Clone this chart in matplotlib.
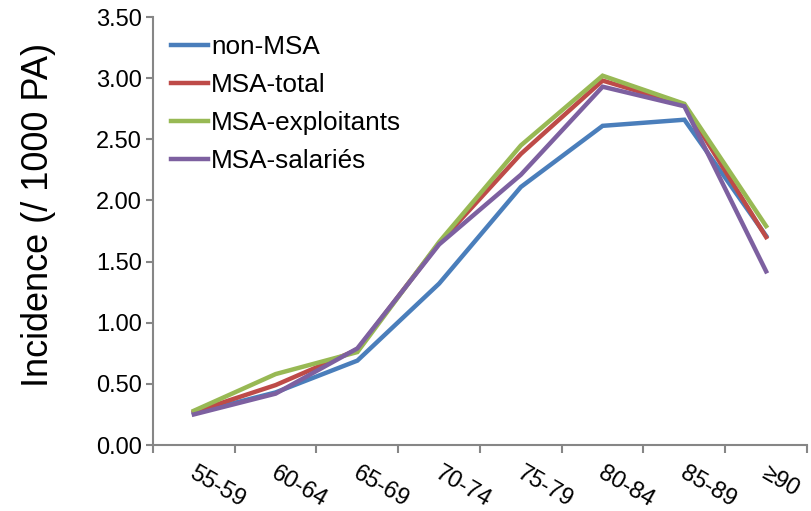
import matplotlib
matplotlib.use("Agg")
import matplotlib.pyplot as plt
from matplotlib.transforms import ScaledTranslation

plt.rcParams['font.family'] = ['Liberation Sans', 'DejaVu Sans']

categories = ["55-59", "60-64", "65-69", "70-74", "75-79", "80-84", "85-89", "≥90"]
non_msa = [0.26, 0.43, 0.69, 1.32, 2.11, 2.61, 2.66, 1.71]
msa_total = [0.27, 0.49, 0.78, 1.65, 2.38, 2.98, 2.78, 1.70]
msa_exploitants = [0.28, 0.58, 0.76, 1.66, 2.45, 3.02, 2.79, 1.79]
msa_salaries = [0.25, 0.42, 0.79, 1.64, 2.21, 2.93, 2.77, 1.42]
yticks = [0.0, 0.5, 1.0, 1.5, 2.0, 2.5, 3.0, 3.5]

series = [
    ("non-MSA", non_msa, "#4A7EBB"),
    ("MSA-total", msa_total, "#BE4B48"),
    ("MSA-exploitants", msa_exploitants, "#98B954"),
    ("MSA-salariés", msa_salaries, "#7D60A0"),
]

W, H = 812, 511
fig = plt.figure(figsize=(W / 100, H / 100), dpi=100)
ax = fig.add_axes([153 / W, 1 - 445 / H, (807 - 153) / W, (445 - 17) / H])

x = list(range(len(categories)))
for label, vals, color in series:
    ax.plot(x, vals, color=color, lw=3.2, label=label, solid_joinstyle='miter')

ax.set_xlim(-0.5, len(categories) - 0.5)
ax.set_ylim(0, 3.5)
ax.set_yticks(yticks)
ax.set_yticklabels([f"{v:.2f}" for v in yticks], fontsize=17)

ax.set_xticks([i - 0.5 for i in range(len(categories) + 1)])
ax.set_xticklabels([])
ax.set_xticks(x, minor=True)
ax.set_xticklabels(categories, minor=True, fontsize=17, rotation=-30,
                   ha='left', va='top', rotation_mode='anchor')
ax.tick_params(axis='x', which='minor', length=0, pad=12.5)
offset = ScaledTranslation(0.03, 0, fig.dpi_scale_trans)
for lbl in ax.get_xticklabels(minor=True):
    lbl.set_transform(lbl.get_transform() + offset)

for s in ['top', 'right']:
    ax.spines[s].set_visible(False)
for s in ['left', 'bottom']:
    ax.spines[s].set_color('#868686')
    ax.spines[s].set_linewidth(1.5)
ax.tick_params(axis='both', which='major', color='#868686', width=1.5, length=5, direction='out')
ax.tick_params(axis='y', which='major', pad=3)
ax.tick_params(axis='x', which='major', length=6)

ax.set_ylabel("Incidence (/ 1000 PA)", fontsize=26)
ax.yaxis.set_label_coords((56 - 153) / (807 - 153), (445 - 215) / 428)

ax.legend(loc='upper left', bbox_to_anchor=(0.0, 1.0), frameon=False, fontsize=18.8,
          handlelength=1.4, handletextpad=0.12, labelspacing=0.53, borderaxespad=0.3)

fig.savefig("out.png", dpi=100)
